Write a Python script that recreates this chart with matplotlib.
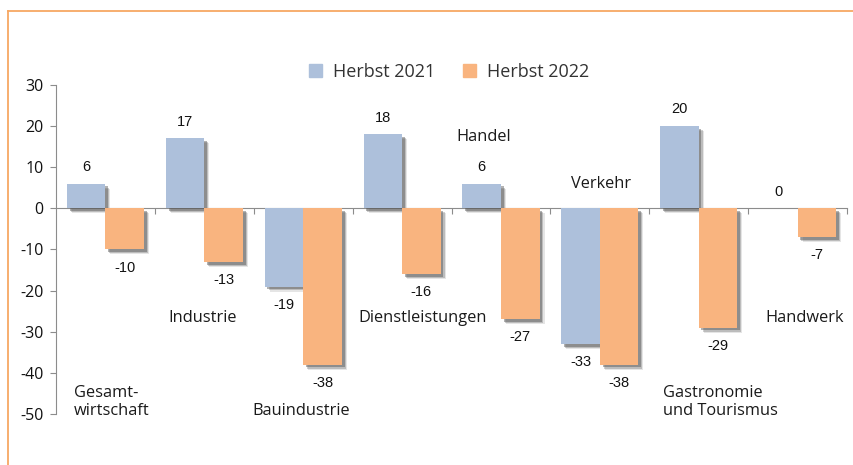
import matplotlib

matplotlib.use("Agg")
import matplotlib.pyplot as plt
import matplotlib.patheffects as pe
from matplotlib.lines import Line2D
from matplotlib.patches import Patch
import numpy as np

categories = [
    "Gesamt-\nwirtschaft",
    "Industrie",
    "Bauindustrie",
    "Dienstleistungen",
    "Handel",
    "Verkehr",
    "Gastronomie\nund Tourismus",
    "Handwerk",
]
herbst_2021 = [6, 17, -19, 18, 6, -33, 20, 0]
herbst_2022 = [-10, -13, -38, -16, -27, -38, -29, -7]
series_labels = ["Herbst 2021", "Herbst 2022"]
yticks = [30, 20, 10, 0, -10, -20, -30, -40, -50]

# where each sector name sits (x in category units, y in data units, alignment)
label_pos = [
    (0.18, -47.1, "left"),
    (1.48, -26.6, "center"),
    (2.48, -49.3, "center"),
    (3.71, -26.6, "center"),
    (4.33, 17.4, "center"),
    (5.51, 6.0, "center"),
    (6.14, -47.1, "left"),
    (7.57, -26.6, "center"),
]

BLUE = "#adc0db"
ORANGE = "#f9b47f"
FRAME = "#f7a863"
AXIS = "#8c8c8c"

plt.rcParams["font.family"] = ["Open Sans", "DejaVu Sans"]
plt.rcParams["axes.unicode_minus"] = False

fig = plt.figure(figsize=(8.54, 4.65), dpi=100)
ax = fig.add_axes([0.0656, 0.1097, 0.9262, 0.7075])

# orange frame (top and left edges visible)
fig.add_artist(Line2D([8 / 854, 1.0], [1 - 11 / 465] * 2, color=FRAME, lw=1.3,
                      transform=fig.transFigure))
fig.add_artist(Line2D([8 / 854] * 2, [0.0, 1 - 11 / 465], color=FRAME, lw=1.3,
                      transform=fig.transFigure))

# soft drop shadow: a few stacked, slightly offset translucent copies
shadow = [
    pe.SimplePatchShadow(offset=(3.6, -3.6), shadow_rgbFace="#707070", alpha=0.18),
    pe.SimplePatchShadow(offset=(2.8, -2.8), shadow_rgbFace="#606060", alpha=0.3),
    pe.SimplePatchShadow(offset=(2.0, -2.0), shadow_rgbFace="#555555", alpha=0.45),
    pe.Normal(),
]

x = np.arange(len(categories)) + 0.5
w = 0.39
b1 = ax.bar(x - w / 2, herbst_2021, w, color=BLUE, zorder=3)
b2 = ax.bar(x + w / 2, herbst_2022, w, color=ORANGE, zorder=3)
for bars in (b1, b2):
    for p in bars:
        p.set_path_effects(shadow)

for bars, vals in ((b1, herbst_2021), (b2, herbst_2022)):
    for p, v in zip(bars, vals):
        cx = p.get_x() + p.get_width() / 2
        dy = 12 if v >= 0 else -13
        ax.annotate(f"{v}", (cx, v), xytext=(0, dy), textcoords="offset points",
                    ha="center", va="center", fontsize=10.5,
                    family="Liberation Sans", color="#111111")

for name, (lx, ly, ha) in zip(categories, label_pos):
    ax.text(lx, ly, name, ha=ha, va="center", fontsize=11.8, color="#1a1a1a",
            linespacing=1.15)

ax.set_xlim(0, 8)
ax.set_ylim(-50, 30)
ax.set_yticks(yticks)
ax.set_xticks(np.arange(1, 9))
ax.set_xticklabels([])
ax.tick_params(axis="y", length=4, color=AXIS, labelsize=11.5, labelcolor="#111111", pad=5)
ax.tick_params(axis="x", length=4, color=AXIS, direction="out")

for s in ("top", "right"):
    ax.spines[s].set_visible(False)
ax.spines["bottom"].set_position(("data", 0))
ax.spines["bottom"].set_color(AXIS)
ax.spines["left"].set_color(AXIS)
ax.spines["bottom"].set_zorder(2)

handles = [Patch(color=BLUE), Patch(color=ORANGE)]
fig.legend(handles=handles, labels=series_labels, loc="center",
           bbox_to_anchor=(449 / 854, 1 - 72 / 465), ncol=2, frameon=False,
           fontsize=13, handlelength=0.75, handleheight=0.75, handletextpad=0.6,
           columnspacing=1.5, labelcolor="#333333")

fig.savefig("out.png", dpi=100)
